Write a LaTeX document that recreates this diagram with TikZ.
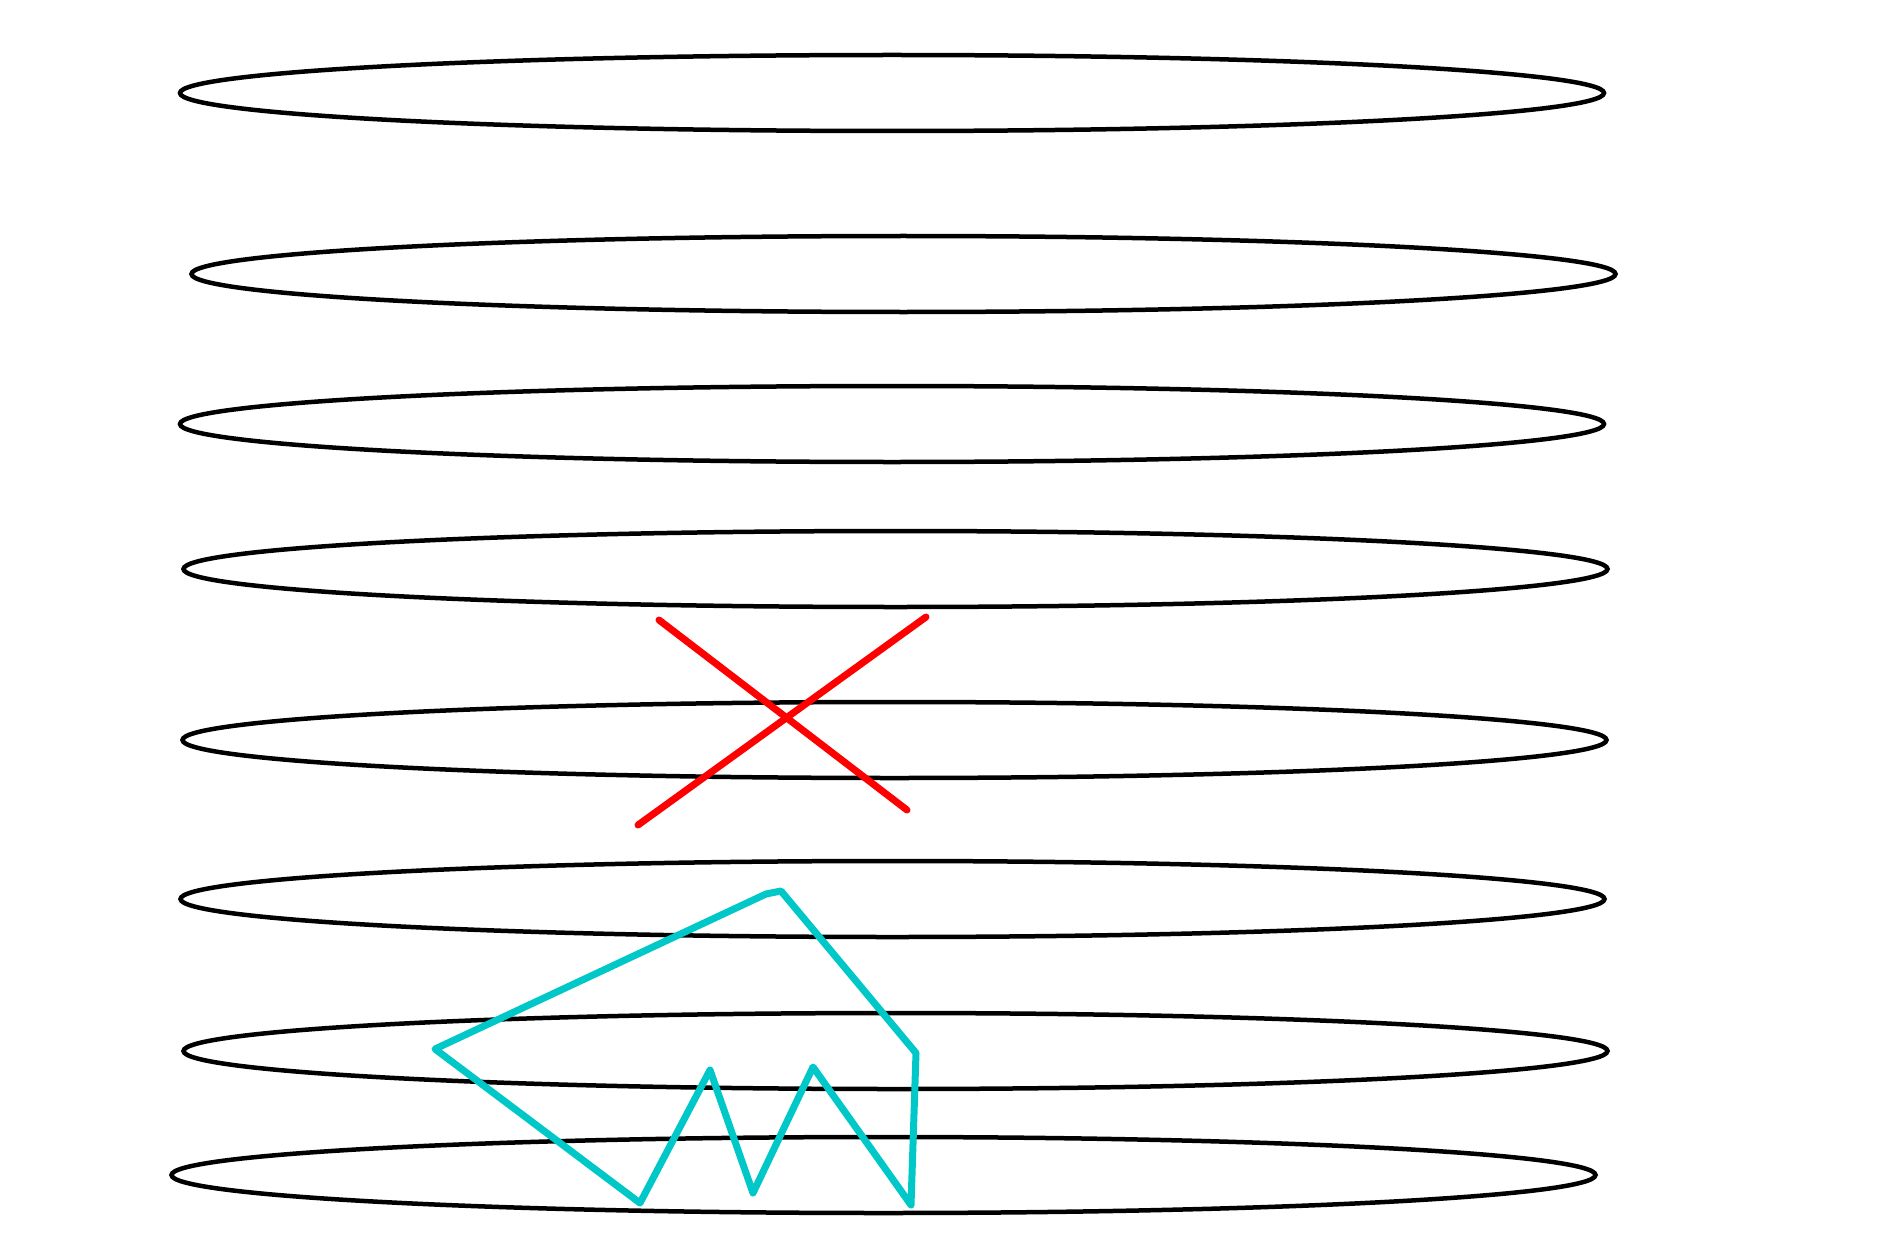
\documentclass[tikz,border=0pt]{standalone}
\begin{document}
\begin{tikzpicture}[x=1pt,y=-1pt,
  ring/.style={draw=black,line width=4.5pt},
  cross/.style={draw=red,line width=7pt,line cap=round},
  zig/.style={draw=cyancol,line width=7pt,line join=round,line cap=round}]
\definecolor{cyancol}{RGB}{0,200,200}
\useasboundingbox (0,0) rectangle (1886,1257);
\fill[white] (0,0) rectangle (1886,1257);
\foreach \cx/\cy in {892/93, 903.5/274, 892/424, 895.5/569, 894.5/740, 892.5/899, 895.5/1051, 883.5/1175}
  \draw[ring] (\cx,\cy) ellipse [x radius=712pt, y radius=38pt];
\coordinate (r1a) at (659,620);
\coordinate (r1b) at (907,810);
\coordinate (r2a) at (926,617);
\coordinate (r2b) at (638,825);
\draw[cross] (r1a) -- (r1b);
\draw[cross] (r2a) -- (r2b);
\coordinate (ctop) at (781,891);
\coordinate (cru) at (916,1053);
\coordinate (crb) at (911,1205);
\coordinate (cp2) at (813,1067);
\coordinate (cv) at (753,1193);
\coordinate (cp1) at (710,1070);
\coordinate (cbl) at (640,1203);
\coordinate (cl) at (435,1049);
\coordinate (cstub) at (766,894);
\draw[zig] (cstub) -- (ctop) -- (cru) -- (crb) -- (cp2) -- (cv) -- (cp1) -- (cbl) -- (cl) -- (cstub);
\end{tikzpicture}
\end{document}
